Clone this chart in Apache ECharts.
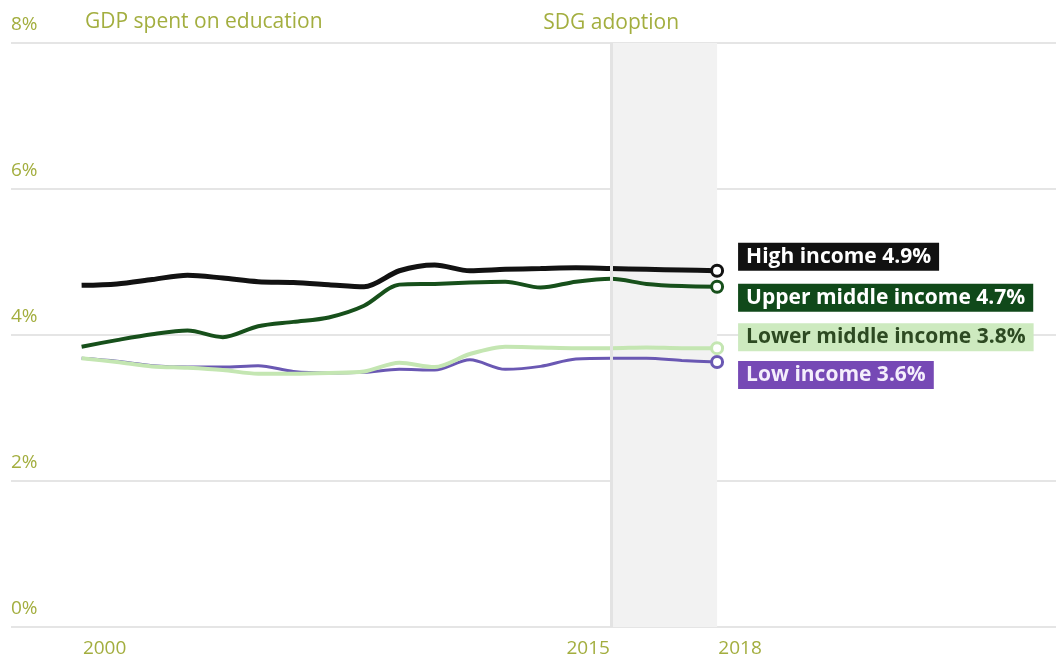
<!DOCTYPE html>
<html>
<head>
<meta charset="utf-8">
<script src="https://cdn.jsdelivr.net/npm/echarts@6/dist/echarts.min.js"></script>
<style>
  html, body { margin: 0; padding: 0; background: #fff; }
  #chart { width: 1056px; height: 664px; }
</style>
</head>
<body>
<div id="chart"></div>
<script>
    // years on the x axis
    var years = [2000, 2001, 2002, 2003, 2004, 2005, 2006, 2007, 2008, 2009,
                 2010, 2011, 2012, 2013, 2014, 2015, 2016, 2017, 2018];
    var tickYears = [2000, 2015, 2018];
    // GDP spent on education, %
    var highIncome = [4.68, 4.70, 4.76, 4.82, 4.78, 4.73, 4.72, 4.69, 4.66, 4.88,
                      4.96, 4.88, 4.90, 4.91, 4.92, 4.91, 4.90, 4.89, 4.88];
    var upperMiddle = [3.84, 3.93, 4.01, 4.06, 3.97, 4.12, 4.18, 4.24, 4.40, 4.69,
                       4.70, 4.72, 4.73, 4.65, 4.73, 4.77, 4.70, 4.67, 4.66];
    var lowerMiddle = [3.68, 3.63, 3.57, 3.55, 3.52, 3.47, 3.47, 3.48, 3.50, 3.62,
                       3.56, 3.74, 3.84, 3.83, 3.82, 3.82, 3.83, 3.82, 3.82];
    var lowIncome = [3.68, 3.64, 3.58, 3.56, 3.56, 3.58, 3.50, 3.48, 3.49, 3.53,
                     3.52, 3.66, 3.53, 3.57, 3.67, 3.68, 3.68, 3.65, 3.63];
    var sdgYear = 2015;
    var bandEnd = 2018;

    var olive = '#a3ae3f';
    var myChart = echarts.init(document.getElementById('chart'));

    function pairs(vals){
        return vals.map(function (v, i) { return [years[i], v]; });
    }

    function makeSeries(name, vals, color, width, label, dy){
        var last = vals.length - 1;
        return {
            name: name,
            type: 'line',
            smooth: 0.3,
            data: pairs(vals),
            showSymbol: true,
            showAllSymbol: true,
            symbol: function (value, params) {
                return params.dataIndex === last ? 'circle' : 'none';
            },
            symbolSize: 11,
            itemStyle: { color: '#fff', borderColor: color, borderWidth: 3 },
            lineStyle: { color: color, width: width },
            emphasis: { disabled: true },
            endLabel: {
                show: true,
                formatter: function (p) {
                    return name + ' ' + p.value[1].toFixed(1) + '%';
                },
                color: label.text,
                backgroundColor: label.bg,
                fontFamily: 'Open Sans',
                fontWeight: 'bold',
                fontSize: 21,
                lineHeight: 22,
                padding: [3, 8, 3, 8],
                distance: 5,
                offset: [16, dy]
            }
        };
    }

    var series = [
        makeSeries('Low income', lowIncome, '#6a58b3', 3,
            { text: '#f4eefc', bg: '#7649b5' }, 13),
        makeSeries('Lower middle income', lowerMiddle, '#c4e6b2', 4,
            { text: '#2d4a22', bg: '#cdeabf' }, -11),
        makeSeries('Upper middle income', upperMiddle, '#17501b', 4,
            { text: '#ffffff', bg: '#10491a' }, 11),
        makeSeries('High income', highIncome, '#121212', 5,
            { text: '#ffffff', bg: '#111111' }, -14)
    ];

    // SDG adoption marker and shaded period
    series[0].markLine = {
        silent: true,
        symbol: 'none',
        lineStyle: { color: '#e3e3e3', width: 3, type: 'solid' },
        label: {
            show: true,
            position: 'end',
            formatter: 'SDG adoption',
            color: olive,
            fontFamily: 'Open Sans',
            fontSize: 21,
            distance: 9
        },
        data: [{ xAxis: sdgYear }]
    };
    series[0].markArea = {
        silent: true,
        itemStyle: { color: '#f2f2f2' },
        data: [[{ xAxis: sdgYear }, { xAxis: bandEnd }]]
    };

    var option = {
        backgroundColor: '#fff',
        animation: false,
        title: {
            text: 'GDP spent on education',
            left: 80,
            top: 7,
            textStyle: { color: olive, fontFamily: 'Open Sans', fontSize: 21, fontWeight: 'normal' }
        },
        grid: { left: 11, right: 0, top: 43, bottom: 37 },
        xAxis: {
            type: 'value',
            min: 1998,
            max: 2027.6,
            interval: 1,
            axisLine: { show: false },
            axisTick: { show: false },
            splitLine: { show: false },
            axisLabel: {
                margin: 12,
                showMinLabel: false,
                showMaxLabel: false,
                formatter: function (v) {
                    if (tickYears.indexOf(v) < 0) return '';
                    return v === sdgYear ? '{r|' + v + '}' : '{l|' + v + '}';
                },
                rich: {
                    l: { color: olive, fontFamily: 'Open Sans', fontSize: 19, padding: [0, 0, 0, 46] },
                    r: { color: olive, fontFamily: 'Open Sans', fontSize: 19, padding: [0, 46, 0, 0] }
                }
            }
        },
        yAxis: {
            type: 'value',
            min: 0,
            max: 8,
            interval: 2,
            axisLine: { show: false },
            axisTick: { show: false },
            splitLine: { lineStyle: { color: '#e5e5e5', width: 2 } },
            axisLabel: {
                inside: true,
                margin: 0,
                verticalAlign: 'bottom',
                padding: [0, 0, 9, 0],
                formatter: '{value}%',
                color: olive,
                fontFamily: 'Open Sans',
                fontSize: 19
            }
        },
        series: series
    };

    myChart.setOption(option);
</script>
</body>
</html>
